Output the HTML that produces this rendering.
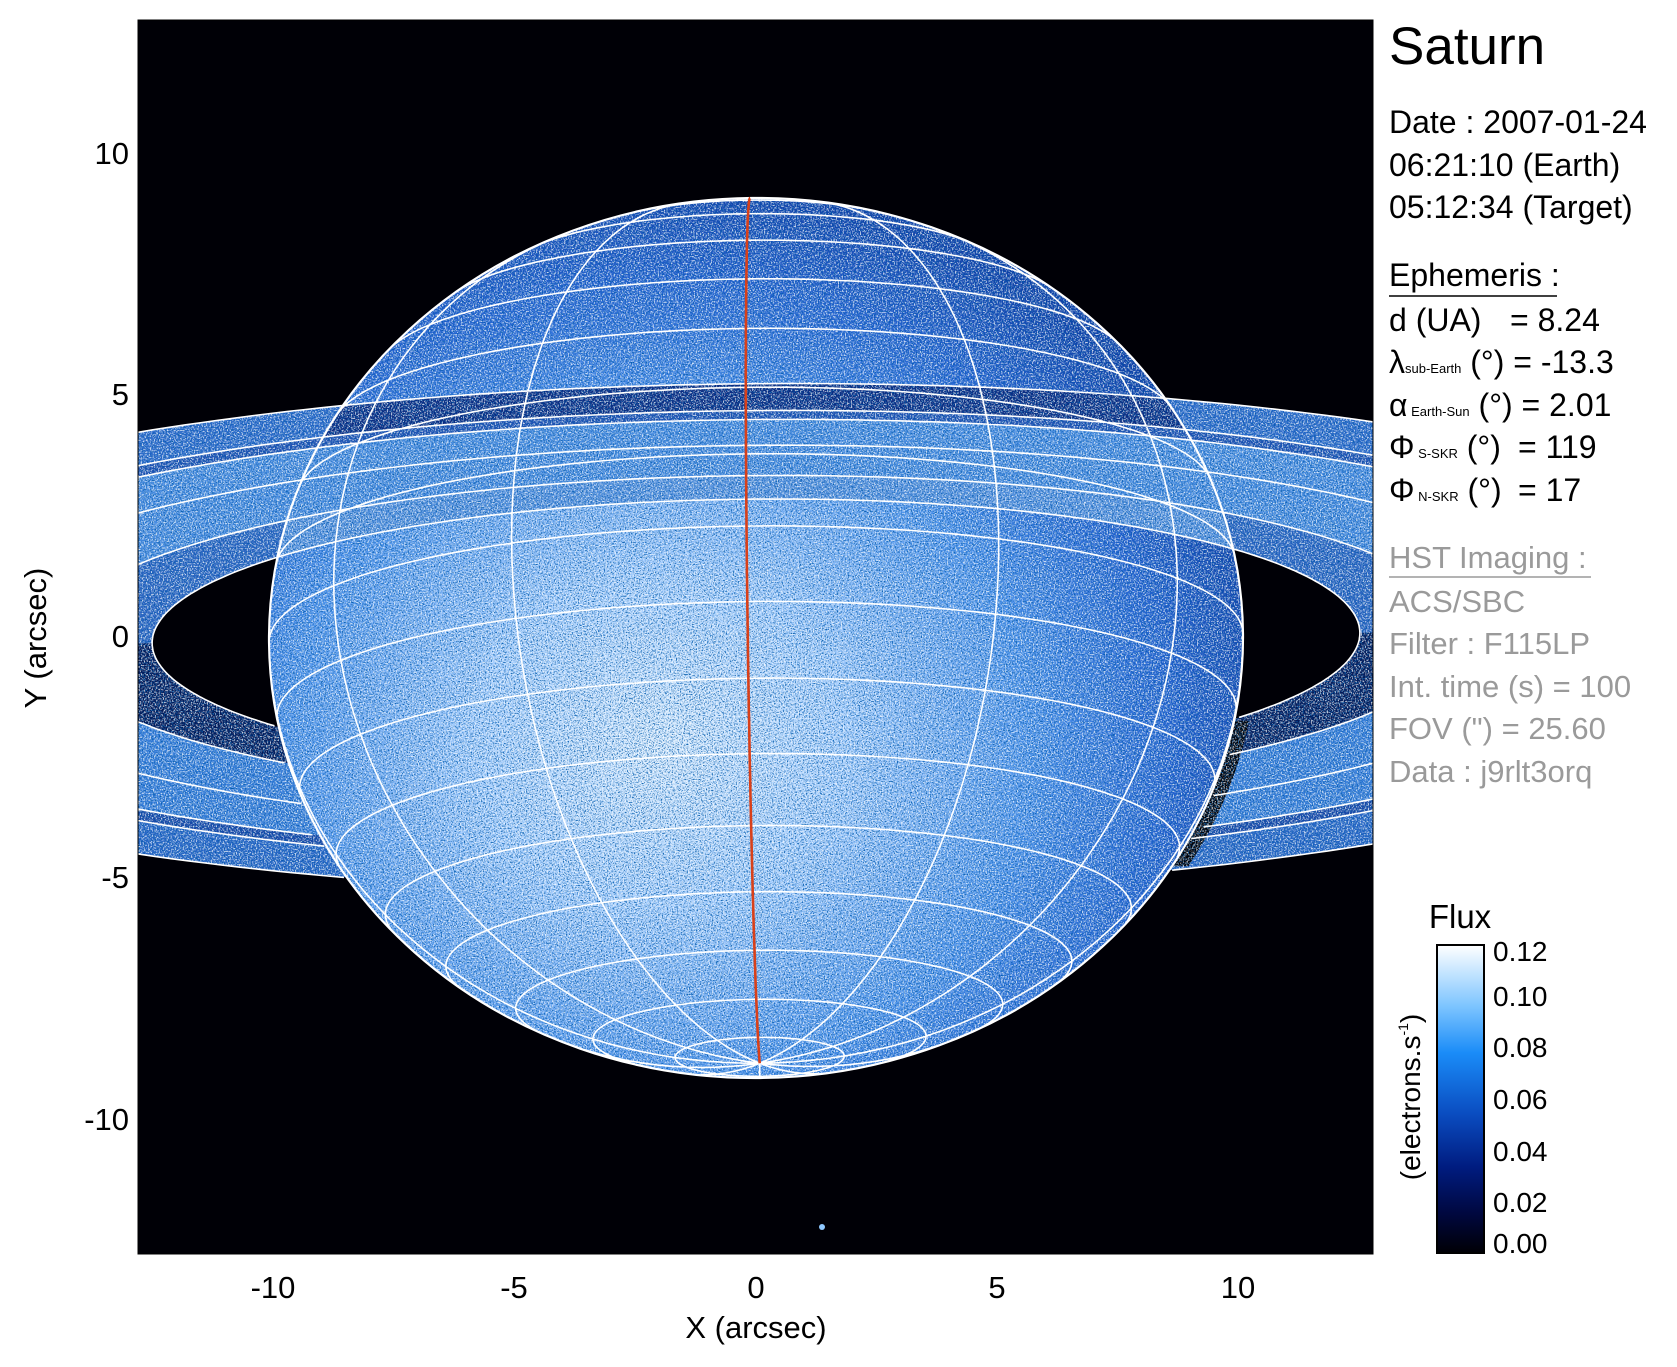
<!DOCTYPE html>
<html><head><meta charset="utf-8"><style>
html,body{margin:0;padding:0;background:#fff;}
svg{display:block;font-family:"Liberation Sans",Arial,sans-serif;}
</style></head><body>
<svg id="s" width="1677" height="1367" viewBox="0 0 1677 1367" xmlns="http://www.w3.org/2000/svg">
<defs>
  <clipPath id="plot"><rect x="138" y="20" width="1235" height="1234"/></clipPath>
  <clipPath id="front"><rect x="-500" y="-500" width="2700" height="1138"/></clipPath>
  <clipPath id="shclip"><rect x="1100" y="725" width="200" height="145"/></clipPath>
  <clipPath id="planetclip"><ellipse cx="756" cy="638" rx="487" ry="440"/></clipPath>
  <mask id="holemask"><rect x="-500" y="-500" width="2700" height="2400" fill="#fff"/><ellipse cx="756" cy="638" rx="604" ry="139" fill="#000"/></mask>
  <mask id="texmask">
    <ellipse cx="756" cy="638" rx="1105" ry="254" fill="#fff"/>
    <ellipse cx="756" cy="638" rx="604" ry="139" fill="#000"/>
    <ellipse cx="756" cy="638" rx="487" ry="440" fill="#fff"/>
  </mask>
  <radialGradient id="pg" cx="40%" cy="62%" r="64%">
    <stop offset="0" stop-color="#d8ecff"/>
    <stop offset="0.3" stop-color="#a8d0ff"/>
    <stop offset="0.6" stop-color="#4f94ec"/>
    <stop offset="0.82" stop-color="#2664d2"/>
    <stop offset="1" stop-color="#1040a8"/>
  </radialGradient>
  <linearGradient id="cb" x1="0" y1="0" x2="0" y2="1">
    <stop offset="0" stop-color="#ffffff"/>
    <stop offset="0.2" stop-color="#7cc4ff"/>
    <stop offset="0.35" stop-color="#1a8cf8"/>
    <stop offset="0.55" stop-color="#0a4cc0"/>
    <stop offset="0.72" stop-color="#001c80"/>
    <stop offset="0.87" stop-color="#000840"/>
    <stop offset="1" stop-color="#000005"/>
  </linearGradient>
  <filter id="nw" x="0" y="0" width="100%" height="100%">
    <feTurbulence type="fractalNoise" baseFrequency="0.75" numOctaves="2" seed="3"/>
    <feColorMatrix values="0 0 0 0 1  0 0 0 0 1  0 0 0 0 1  5 0 0 0 -2.4"/>
  </filter>
  <filter id="nd" x="0" y="0" width="100%" height="100%">
    <feTurbulence type="fractalNoise" baseFrequency="0.8" numOctaves="2" seed="11"/>
    <feColorMatrix values="0 0 0 0 0  0 0 0 0 0.1  0 0 0 0 0.4  5 0 0 0 -2.4"/>
  </filter>
</defs>
<rect x="138" y="20" width="1235" height="1234" fill="#000006"/>
<g clip-path="url(#plot)">
 <g transform="rotate(-0.5 756 638)">
  <ellipse cx="756" cy="638" rx="1105" ry="254" fill="#2a68c8"/>
  <ellipse cx="756" cy="638" rx="989" ry="227" fill="#1a48a8"/>
  <ellipse cx="756" cy="638" rx="950" ry="218" fill="#3a80dc"/>
  <ellipse cx="756" cy="638" rx="706" ry="162" fill="#041a58"/>
  <ellipse cx="756" cy="638" rx="604" ry="139" fill="#000006"/>
  <ellipse cx="756" cy="638" rx="1105" ry="254" fill="#000006" opacity="0"/>
  <g clip-path="url(#plot)">
  <g clip-path="url(#shclip)"><ellipse cx="770" cy="642" rx="487" ry="440" fill="#000006"/></g>
  </g>
  <ellipse cx="756" cy="638" rx="487" ry="440" fill="url(#pg)"/>
  <g clip-path="url(#front)"><g mask="url(#holemask)">
    <ellipse cx="756" cy="638" rx="1105" ry="254" fill="#2e6ccc"/>
    <ellipse cx="756" cy="638" rx="989" ry="227" fill="#2052b4"/>
    <ellipse cx="756" cy="638" rx="950" ry="218" fill="#4a8ee2"/>
    <ellipse cx="756" cy="638" rx="706" ry="162" fill="#2a62c0" opacity="0.9"/>
    <g clip-path="url(#planetclip)">
      <path d="M -349 638 A 1105 254 0 0 1 1861 638 L 1745 638 A 989 227 0 0 0 -233 638 Z" fill="#0a2a80"/>
      <path d="M 50 638 A 706 162 0 0 1 1462 638 L 1360 638 A 604 139 0 0 0 152 638 Z" fill="#6aa6ec" opacity="0.7"/>
    </g>
  </g></g>
  <g mask="url(#texmask)">
    <rect x="-400" y="150" width="2400" height="950" filter="url(#nd)" opacity="0.9"/>
    <rect x="-400" y="150" width="2400" height="950" filter="url(#nw)" opacity="0.75"/>
  </g>
  <g id="grid" fill="none" stroke="#fff" stroke-width="1.6"></g>
  <ellipse cx="756" cy="638" rx="487" ry="440" fill="none" stroke="#fff" stroke-width="2.2"/>
  <path id="redm" fill="none" stroke="#d8401a" stroke-width="2.6"/>
 </g>
 <circle cx="822" cy="1227" r="3" fill="#8fc8ff"/>
</g>
<rect x="138" y="20" width="1235" height="1234" fill="none" stroke="#000" stroke-width="1"/>

<g font-size="31" fill="#000">
  <g text-anchor="end">
    <text x="129" y="164">10</text>
    <text x="129" y="405">5</text>
    <text x="129" y="647">0</text>
    <text x="129" y="888">-5</text>
    <text x="129" y="1130">-10</text>
  </g>
  <g text-anchor="middle">
    <text x="273" y="1298">-10</text>
    <text x="514" y="1298">-5</text>
    <text x="756" y="1298">0</text>
    <text x="997" y="1298">5</text>
    <text x="1238" y="1298">10</text>
    <text x="756" y="1338">X (arcsec)</text>
    <text transform="translate(46 638) rotate(-90)">Y (arcsec)</text>
  </g>
</g>

<g fill="#000">
  <text x="1389" y="64" font-size="53">Saturn</text>
  <g font-size="32">
    <text x="1389" y="133">Date : 2007-01-24</text>
    <text x="1389" y="176">06:21:10 (Earth)</text>
    <text x="1389" y="218">05:12:34 (Target)</text>
    <text x="1389" y="286">Ephemeris :</text>
    <text x="1389" y="331">d (UA)</text><text x="1510" y="331">= 8.24</text>
    <text x="1389" y="373">λ<tspan font-size="13">sub-Earth</tspan> (°) = -13.3</text>
    <text x="1389" y="416">α<tspan font-size="13"> Earth-Sun</tspan> (°) = 2.01</text>
    <text x="1389" y="458">Φ<tspan font-size="13"> S-SKR</tspan> (°)</text><text x="1518" y="458">= 119</text>
    <text x="1389" y="501">Φ<tspan font-size="13"> N-SKR</tspan> (°)</text><text x="1518" y="501">= 17</text>
  </g>
  <line x1="1389" y1="296" x2="1557" y2="296" stroke="#000" stroke-width="1.5"/>
  <g font-size="31" fill="#9a9a9a">
    <text x="1389" y="568">HST Imaging :</text>
    <text x="1389" y="612">ACS/SBC</text>
    <text x="1389" y="654">Filter : F115LP</text>
    <text x="1389" y="697">Int. time (s) = 100</text>
    <text x="1389" y="739">FOV (") = 25.60</text>
    <text x="1389" y="782">Data : j9rlt3orq</text>
  </g>
  <line x1="1389" y1="577" x2="1591" y2="577" stroke="#9a9a9a" stroke-width="1.5"/>
</g>

<rect x="1437" y="945" width="47" height="308" fill="url(#cb)" stroke="#000" stroke-width="2"/>
<g font-size="28" fill="#000">
  <text x="1460" y="928" text-anchor="middle" font-size="33">Flux</text>
  <text x="1493" y="961">0.12</text>
  <text x="1493" y="1006">0.10</text>
  <text x="1493" y="1057">0.08</text>
  <text x="1493" y="1109">0.06</text>
  <text x="1493" y="1161">0.04</text>
  <text x="1493" y="1212">0.02</text>
  <text x="1493" y="1253">0.00</text>
  <text transform="translate(1420 1097) rotate(-90)" text-anchor="middle">(electrons.s<tspan font-size="14" dy="-12">-1</tspan><tspan dy="12">)</tspan></text>
</g>
</svg>
<script>
(function(){
var cx=756,cy=638,Re=487,Rp=437,B=-13.3*Math.PI/180,sB=Math.sin(B),cB=Math.cos(B),D=Math.PI/180;
function proj(p,l){var X=Re*Math.cos(p)*Math.sin(l),Y=Rp*Math.sin(p),Z=Re*Math.cos(p)*Math.cos(l);
 var yu=Y*cB-Z*sB;var v=Math.sin(p)*sB+Math.cos(p)*Math.cos(l)*cB;return [cx+X,cy-yu,v];}
var d="";
function addSeg(pts){var s="",on=false;for(var i=0;i<pts.length;i++){var q=pts[i];
 if(q[2]>0){s+=(on?" L":" M")+q[0].toFixed(1)+" "+q[1].toFixed(1);on=true;}else on=false;}return s;}
for(var la=-80;la<=80;la+=10){var pts=[];for(var lo=-180;lo<=180;lo+=2)pts.push(proj(la*D,lo*D));d+=addSeg(pts);}
for(var lo=0;lo<360;lo+=30){if(lo===0)continue;var pts=[];for(var la=-90;la<=90;la+=2)pts.push(proj(la*D,lo*D));d+=addSeg(pts);}
var rings=[1.24,1.45,1.72,1.95,2.03,2.27];
rings.forEach(function(R){var pts=[];for(var lo=0;lo<=360;lo+=1){var l=lo*D;var X=R*Re*Math.sin(l),Z=R*Re*Math.cos(l);
 var x=cx+X,y=cy+Z*sB;var inside=((x-cx)/487)*((x-cx)/487)+((y-cy)/440)*((y-cy)/440)<1;
 pts.push([x,y,(Z<0&&inside)?-1:1]);}d+=addSeg(pts);});
var g=document.getElementById("grid");var p=document.createElementNS("http://www.w3.org/2000/svg","path");
p.setAttribute("d",d);g.appendChild(p);
var pts=[];for(var la=-90;la<=90;la+=2)pts.push(proj(la*D,-1*D));
document.getElementById("redm").setAttribute("d",addSeg(pts));
})();
</script>
</body></html>
